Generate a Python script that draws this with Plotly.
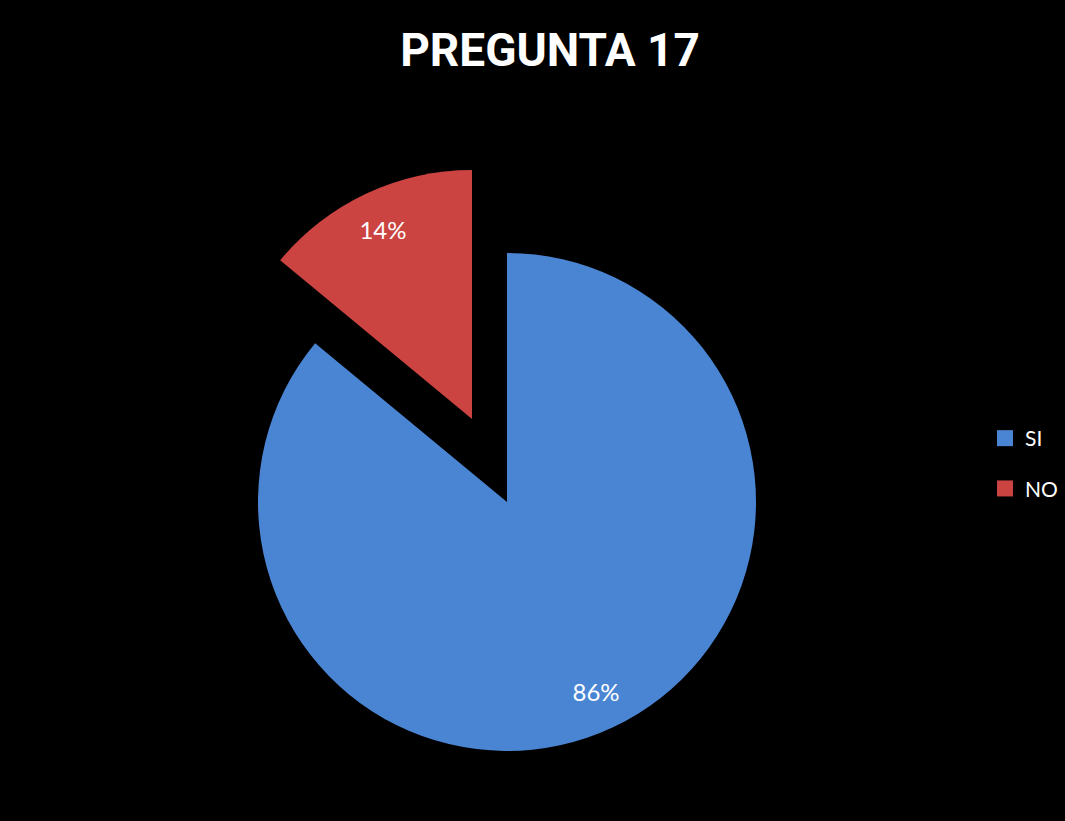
import plotly.graph_objects as go

# data
labels = ['SI', 'NO']
values = [86, 14]
colors = ['#4A85D3', '#CB4441']
title_text = 'PREGUNTA 17'

W, H = 1065, 821
R = 249                      # pie radius in px
SI_CENTER = (507, 502)       # px from top-left
NO_CENTER = (472, 419)       # exploded slice centre


def domain(cx, cy, r):
    return dict(x=[(cx - r) / W, (cx + r) / W], y=[1 - (cy + r) / H, 1 - (cy - r) / H])


clear = 'rgba(0,0,0,0)'
pie_common = dict(labels=labels, values=values, sort=False, direction='clockwise', rotation=0,
                  showlegend=False, hoverinfo='label+percent')
fig = go.Figure()
# slices (SI in place, NO exploded)
fig.add_trace(go.Pie(**pie_common, marker=dict(colors=[colors[0], clear], line=dict(width=0)),
                     textinfo='none', domain=domain(*SI_CENTER, R)))
fig.add_trace(go.Pie(**pie_common, marker=dict(colors=[clear, colors[1]], line=dict(width=0)),
                     textinfo='none', domain=domain(*NO_CENTER, R)))
# percentage labels: transparent ring so text sits near the rim
fig.add_trace(go.Pie(**pie_common, hole=0.68, marker=dict(colors=[clear, clear], line=dict(width=0)),
                     texttemplate=['%{percent:.0%}', ''], textposition='inside',
                     insidetextorientation='horizontal', domain=domain(*SI_CENTER, R)))
fig.add_trace(go.Pie(**pie_common, hole=0.68, marker=dict(colors=[clear, clear], line=dict(width=0)),
                     texttemplate=['', '%{percent:.0%}'], textposition='inside',
                     insidetextorientation='horizontal', domain=domain(*NO_CENTER, R)))
# legend entries
for lbl, col in zip(labels, colors):
    fig.add_trace(go.Scatter(x=[None], y=[None], mode='markers', name=lbl, legendgroup=lbl,
                             marker=dict(symbol='square', size=16, color=col)))

fig.update_traces(textfont=dict(family='Lato, sans-serif', size=24, color='white'), selector=dict(type='pie'))
fig.update_layout(width=W, height=H, margin=dict(l=0, r=0, t=0, b=0),
                  paper_bgcolor='black', plot_bgcolor='black',
                  title=dict(text='<b>' + title_text + '</b>', x=550 / W, xanchor='center', y=1 - 50 / H, yanchor='middle',
                             font=dict(family='Roboto, sans-serif', size=46, color='white')),
                  legend=dict(x=985 / W, xanchor='left', y=1 - 418 / H, yanchor='top', traceorder='grouped',
                              tracegroupgap=20, bgcolor='rgba(0,0,0,0)',
                              font=dict(family='Lato, sans-serif', size=21, color='white')),
                  xaxis=dict(visible=False), yaxis=dict(visible=False))
fig.write_html('out.html', config={'displayModeBar': False},
               post_script="document.body.style.margin='0';document.body.style.background='black';")
